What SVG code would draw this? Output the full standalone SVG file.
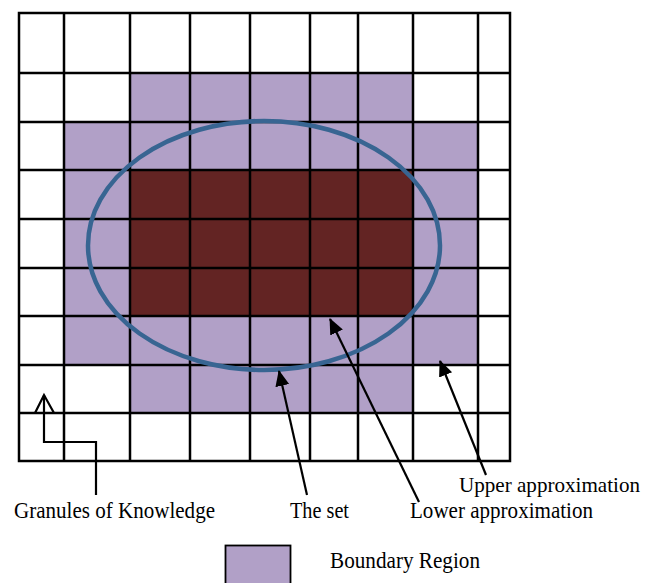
<svg xmlns="http://www.w3.org/2000/svg" width="654" height="583" viewBox="0 0 654 583">
<style>
.b{fill:#b1a0c7}
.d{fill:#632423}
.g{stroke:#000;stroke-width:2.5;fill:none}
.c{stroke:#000;stroke-width:2.2;fill:none}
.t{font-family:"Liberation Serif","Times New Roman",serif;font-size:23px;fill:#000}
</style>
<defs>
<marker id="ah" markerUnits="userSpaceOnUse" markerWidth="16" markerHeight="16" viewBox="0 0 16 16" refX="15" refY="8" orient="auto">
<path d="M0,1 L16,8 L0,15 Z" fill="#000"/>
</marker>
</defs>
<rect width="654" height="583" fill="#fff"/>
<g id="grid">
<rect class="b" x="130" y="73" width="283" height="49"/>
<rect class="b" x="64" y="122" width="414" height="194"/>
<rect class="b" x="64" y="316" width="414" height="49"/>
<rect class="b" x="130" y="365" width="283" height="48"/>
<rect class="d" x="130" y="170" width="283" height="146"/>
<path class="g" d="M19,13H510V461H19Z M64,13V461 M130,13V461 M190,13V461 M250,13V461 M310,13V461 M358,13V461 M413,13V461 M478,13V461 M19,73H510 M19,122H510 M19,170H510 M19,219H510 M19,268H510 M19,316H510 M19,365H510 M19,413H510"/>
</g>
<g id="the-set">
<ellipse cx="264" cy="245.5" rx="176" ry="124.5" fill="none" stroke="#386592" stroke-width="4.5"/>
</g>
<g id="connectors">
<path class="c" d="M96,495 V442 H44 V395"/>
<path class="c" d="M35,413 L44,395 L54,413"/>
<path class="c" d="M307,495 L279,371" marker-end="url(#ah)"/>
<path class="c" d="M419,502 L330,319" marker-end="url(#ah)"/>
<path class="c" d="M486,475 L440,361" marker-end="url(#ah)"/>
</g>
<g id="label-granules"><text class="t" x="14" y="518" textLength="201" lengthAdjust="spacingAndGlyphs">Granules of Knowledge</text></g>
<g id="label-set"><text class="t" x="290" y="518" textLength="59" lengthAdjust="spacingAndGlyphs">The set</text></g>
<g id="label-lower"><text class="t" x="410" y="518" textLength="183" lengthAdjust="spacingAndGlyphs">Lower approximation</text></g>
<g id="label-upper"><text class="t" x="459" y="492" style="font-size:22px" textLength="181" lengthAdjust="spacingAndGlyphs">Upper approximation</text></g>
<g id="legend">
<rect x="225.5" y="545.5" width="65" height="40" fill="#b1a0c7" stroke="#000" stroke-width="1.8"/>
<text class="t" x="330" y="568" textLength="150" lengthAdjust="spacingAndGlyphs">Boundary Region</text>
</g>
</svg>
